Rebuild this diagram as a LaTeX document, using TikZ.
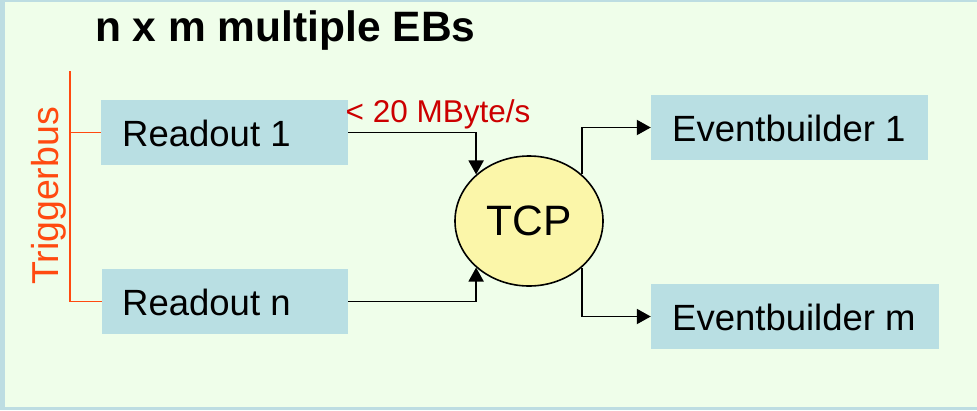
\documentclass[tikz,border=0pt]{standalone}
\usepackage{fontspec}
\setmainfont{Liberation Sans}
\usetikzlibrary{shapes.geometric,arrows.meta}

\definecolor{frameblue}{HTML}{BDDDE2}
\definecolor{panelgreen}{HTML}{EFFEEA}
\definecolor{boxblue}{HTML}{B9DFE3}
\definecolor{tcpyellow}{HTML}{FBF6A9}
\definecolor{busred}{HTML}{FF4A10}
\definecolor{ratered}{HTML}{CC0000}

\tikzset{
  unitbox/.style={rectangle, fill=boxblue, minimum height=65pt, inner sep=0pt},
  boxtext/.style={anchor=west, inner sep=0pt, font=\fontsize{36.5pt}{40pt}\selectfont},
  flow/.style={draw=black, line width=1.9pt, -{Triangle[length=14pt,width=15pt]}},
  bus/.style={draw=busred, line width=1.7pt}
}

\begin{document}
\begin{tikzpicture}[x=1pt, y=-1pt]
  % panel and frame
  \fill[frameblue] (0,0) rectangle (977,410);
  \fill[panelgreen] (5,2) rectangle (977,407);
  \useasboundingbox (0,0) rectangle (977,410);

  % title
  \node[font=\fontsize{42.5pt}{46pt}\selectfont\bfseries, anchor=west, inner sep=0pt] (title) at (95,31) {n x m multiple EBs};

  % readout units
  \node[unitbox, minimum width=247pt] (r1) at (224.5,132.5) {};
  \node[boxtext] (r1t) at (122,133) {Readout 1};
  \node[unitbox, minimum width=246pt] (rn) at (225,301.5) {};
  \node[boxtext] (rnt) at (122,302) {Readout n};

  % event builders
  \node[unitbox, minimum width=277pt] (eb1) at (789.5,127.5) {};
  \node[boxtext] (eb1t) at (672,128) {Eventbuilder 1};
  \node[unitbox, minimum width=288pt] (ebm) at (795,316.5) {};
  \node[boxtext] (ebmt) at (672,317) {Eventbuilder m};

  % switch
  \node[ellipse, draw=black, line width=1.6pt, fill=tcpyellow, minimum width=148pt, minimum height=130pt, inner sep=0pt,
        font=\fontsize{42.5pt}{46pt}\selectfont] (tcp) at (529,221) {TCP};

  % trigger bus
  \coordinate (bustop) at (70,71);
  \draw[bus] (bustop) |- (rn.west);
  \draw[bus] (bustop |- r1.west) -- (r1.west);
  \node[rotate=90, text=busred, inner sep=0pt, font=\fontsize{37.5pt}{40pt}\selectfont] (tblabel) at (49,196) {Triggerbus};

  % data flow
  \draw[flow] (r1.east) -| (tcp.north west);
  \draw[flow] (rn.east) -| (tcp.south west);
  \draw[flow] (tcp.north east) |- (eb1.west);
  \draw[flow] (tcp.south east) |- (ebm.west);

  % rate label
  \node[text=ratered, inner sep=0pt, font=\fontsize{31.5pt}{35pt}\selectfont] (rate) at (438,114) {< 20 MByte/s};
\end{tikzpicture}
\end{document}
